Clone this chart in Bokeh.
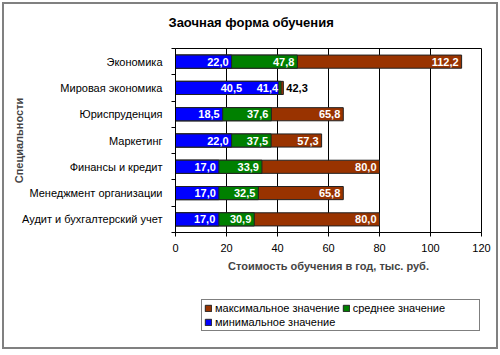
from bokeh.plotting import figure
from bokeh.layouts import column
from bokeh.models import (ColumnDataSource, FixedTicker, Legend, LegendItem, Range1d)
from bokeh.core.properties import value
from bokeh.embed import file_html
from bokeh.resources import INLINE

categories = ["Экономика", "Мировая экономика", "Юриспруденция", "Маркетинг",
              "Финансы и кредит", "Менеджмент организации", "Аудит и бухгалтерский учет"]
min_values = [22.0, 40.5, 18.5, 22.0, 17.0, 17.0, 17.0]
mean_values = [47.8, 41.4, 37.6, 37.5, 33.9, 32.5, 30.9]
max_values = [112.2, 42.3, 65.8, 57.3, 80.0, 65.8, 80.0]
series_names = ["максимальное значение", "среднее значение", "минимальное значение"]
x_ticks = [0, 20, 40, 60, 80, 100, 120]
title_text = "Заочная форма обучения"
x_title = "Стоимость обучения в год, тыс. руб."
y_title = "Специальности"

FONT = "Liberation Sans"
C_MAX, C_MEAN, C_MIN = "#993300", "#008000", "#0000FF"
EDGE = "#222222"

n = len(categories)
ypos = [n - 0.5 - i for i in range(n)]

# page geometry: a 2px grey border at 2px from the window edge
OFF = 4                     # inner content starts here (margin 2 + border 2)
W_IN, H_IN = 492, 343       # inner size inside the border
H1 = 286                    # chart part
H2 = H_IN - H1              # legend strip
FL, FR, FT, FB = 175 - OFF, 481 - OFF, 48 - OFF, 232 - OFF
XMAX = 120
p = figure(width=W_IN, height=H1, x_range=Range1d(0, XMAX), y_range=Range1d(0, n),
           output_backend="svg", toolbar_location=None,
           min_border_left=FL, min_border_right=W_IN - FR,
           min_border_top=FT, min_border_bottom=H1 - FB)
p.background_fill_color = "white"
p.border_fill_color = "white"
p.outline_line_color = "black"
p.outline_line_width = 1

src = ColumnDataSource(dict(y=ypos, mn=min_values, me=mean_values, mx=max_values))
bh = 0.5
p.hbar(y="y", left=0, right="mx", height=bh, source=src,
       fill_color=C_MAX, line_color=EDGE, line_width=1)
p.hbar(y="y", left=0, right="me", height=bh, source=src,
       fill_color=C_MEAN, line_color=EDGE, line_width=1)
p.hbar(y="y", left=0, right="mn", height=bh, source=src,
       fill_color=C_MIN, line_color=EDGE, line_width=1)

# value labels
px = (FR - FL) / XMAX
fmt = lambda v: f"{v:.1f}".replace(".", ",")
lx, ly, lt, lc, la, lo = [], [], [], [], [], []
for i in range(n):
    mn, me, mx, y = min_values[i], mean_values[i], max_values[i], ypos[i]
    if (mx - me) * px < 30:
        lx.append(mx); lo.append(3); la.append("left"); lc.append("black")
    else:
        lx.append(mx); lo.append(-3); la.append("right"); lc.append("white")
    ly.append(y); lt.append(fmt(mx))
    lx.append(me); lo.append(-3); la.append("right"); lc.append("white")
    ly.append(y); lt.append(fmt(me))
    off = min(-3, (me - mn) * px - 39)
    lx.append(mn); lo.append(off); la.append("right"); lc.append("white")
    ly.append(y); lt.append(fmt(mn))
lsrc = ColumnDataSource(dict(x=lx, y=ly, t=lt, c=lc, a=la, o=lo))
p.text(x="x", y="y", text="t", source=lsrc, text_color="c", text_align="a",
       x_offset="o", text_baseline="middle", text_font=value(FONT),
       text_font_style="bold", text_font_size="11px")

# axes
p.xaxis.ticker = FixedTicker(ticks=x_ticks)
p.xaxis.major_tick_out = 4
p.xaxis.major_tick_in = 0
p.xaxis.minor_tick_line_color = None
p.xaxis.major_label_standoff = 7
p.xaxis.major_label_text_font = FONT
p.xaxis.major_label_text_font_size = "11px"
p.xaxis.major_label_text_color = "black"
p.xaxis.axis_label = x_title
p.xaxis.axis_label_text_font = FONT
p.xaxis.axis_label_text_font_style = "bold"
p.xaxis.axis_label_text_font_size = "11px"
p.xaxis.axis_label_standoff = 5
p.xaxis.axis_line_color = "black"

p.yaxis.ticker = FixedTicker(ticks=ypos, minor_ticks=list(range(n + 1)))
p.yaxis.major_label_overrides = {y: c for y, c in zip(ypos, categories)}
p.yaxis.major_tick_line_color = None
p.yaxis.major_tick_out = 0
p.yaxis.major_tick_in = 0
p.yaxis.minor_tick_out = 4
p.yaxis.minor_tick_in = 0
p.yaxis.minor_tick_line_color = "black"
p.yaxis.major_label_standoff = 9
p.yaxis.major_label_text_font = FONT
p.yaxis.major_label_text_font_size = "11px"
p.yaxis.major_label_text_color = "black"
p.yaxis.axis_label = y_title
p.yaxis.axis_label_text_font = FONT
p.yaxis.axis_label_text_font_style = "bold"
p.yaxis.axis_label_text_font_size = "11px"
p.yaxis.axis_label_standoff = -6
p.yaxis.axis_line_color = "black"

p.xgrid.ticker = FixedTicker(ticks=x_ticks)
p.xgrid.grid_line_color = "black"
p.ygrid.grid_line_color = None

# title (a blank second line lifts it towards the top of the page)
p.title.text = title_text + "\n "
p.title.align = "left"
p.title.offset = -7
p.title.vertical_align = "top"
p.title.standoff = 3
p.title.text_font = FONT
p.title.text_font_style = "bold"
p.title.text_font_size = "13px"
p.title.text_color = "black"

# legend strip: an axis-less figure; its sample glyphs lie outside its range
lf = figure(width=W_IN, height=H2, x_range=Range1d(0, 1), y_range=Range1d(0, H2),
            output_backend="svg", toolbar_location=None,
            min_border=0, min_border_left=0, min_border_right=0,
            min_border_top=0, min_border_bottom=0)
lf.axis.visible = False
lf.grid.visible = False
lf.outline_line_color = None
lf.border_fill_color = "white"
lf.background_fill_color = "white"
hidden = ColumnDataSource(dict(y=[-1000], r=[0]))
g_max = lf.hbar(y="y", left=0, right="r", height=1, source=hidden,
                fill_color=C_MAX, line_color=EDGE)
g_mean = lf.hbar(y="y", left=0, right="r", height=1, source=hidden,
                 fill_color=C_MEAN, line_color=EDGE)
g_min = lf.hbar(y="y", left=0, right="r", height=1, source=hidden,
                fill_color=C_MIN, line_color=EDGE)
legend = Legend(items=[LegendItem(label=series_names[0], renderers=[g_max]),
                       LegendItem(label=series_names[1], renderers=[g_mean]),
                       LegendItem(label=series_names[2], renderers=[g_min])],
                location=(26, 16), orientation="horizontal", ncols=2)
legend.label_text_font = FONT
legend.label_text_font_size = "11px"
legend.label_text_color = "black"
legend.glyph_width = 8
legend.glyph_height = 8
legend.label_standoff = 3
legend.label_height = 11
legend.label_width = 124
legend.spacing = 2
legend.padding = 2
legend.margin = 0
legend.border_line_color = "black"
legend.border_line_width = 1
legend.background_fill_color = "white"
lf.add_layout(legend, "center")

layout = column(p, lf, spacing=0,
                styles={"margin": "2px 0 0 2px", "border": "2px solid #808080",
                        "background-color": "white"})

open("out.html", "w").write(file_html(layout, INLINE))
